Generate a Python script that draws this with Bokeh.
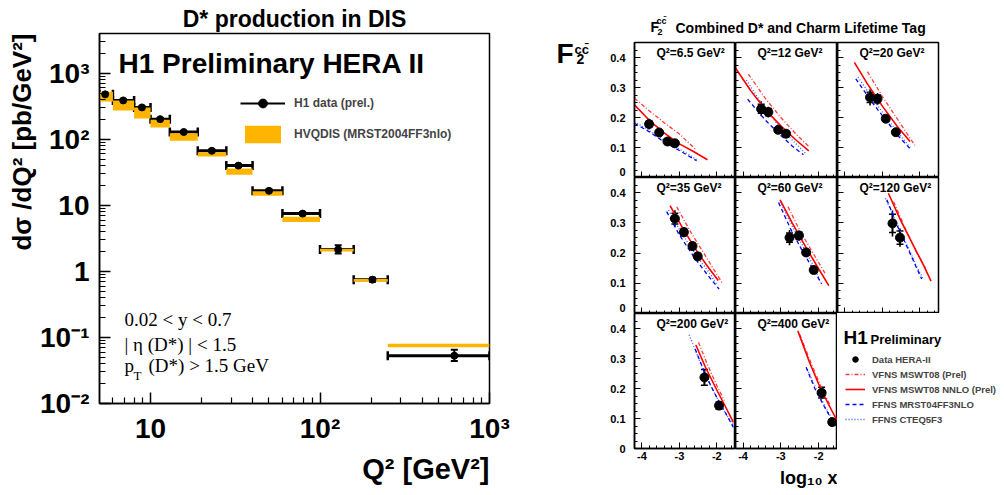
import math
from bokeh.plotting import figure
from bokeh.models import (Range1d, FixedTicker, Whisker, TeeHead, Label, Title, Spacer,
                          Legend, LegendItem, ColumnDataSource, LinearAxis)
from bokeh.layouts import row, column
from bokeh.embed import file_html
from bokeh.resources import INLINE

FONT = "Liberation Sans"
SERIF = "Liberation Serif"
ORANGE = "#FFB400"
NAN = float("nan")

# ---------------- left: D* production in DIS ----------------
Q2_LO = [5, 6, 8, 10, 13, 19, 28, 40, 60, 100, 158, 251]
Q2_HI = [6, 8, 10, 13, 19, 28, 40, 60, 100, 158, 251, 1000]
Q2_C = [5.4, 6.9, 8.9, 11.4, 15.7, 23, 33, 50, 79, 128, 204, 620]
XS = [480, 388, 304, 202, 129, 67, 40, 16.6, 7.5, 2.14, 0.75, 0.053]
XS_ELO = [455, 370, 290, 193, 124, 64, 38.2, 15.8, 7.1, 1.86, 0.70, 0.044]
XS_EHI = [505, 406, 318, 211, 134, 70, 41.8, 17.4, 7.9, 2.48, 0.80, 0.065]
TH_LO = [374, 273, 206, 151, 95, 55, 29, 14, 5.6, 2.0, 0.70, 0.071]
TH_HI = [525, 387, 303, 197, 124, 63.7, 36, 16.4, 6.7, 2.2, 0.77, 0.080]
X_TICKS = [10, 100, 1000]
X_LABELS = ["10", "10\u00b2", "10\u00b3"]
Y_TICKS = [0.01, 0.1, 1, 10, 100, 1000]
Y_LABELS = ["10\u207b\u00b2", "10\u207b\u00b9", "1", "10", "10\u00b2", "10\u00b3"]

# ---------------- right: F2cc panels ----------------
PANEL_Q2 = ["6.5", "12", "20", "35", "60", "120", "200", "400"]
F2_X = [[-3.81, -3.54, -3.32, -3.12], [-3.52, -3.33, -3.07, -2.86],
        [-3.33, -3.13, -2.91, -2.64], [-3.12, -2.88, -2.65, -2.51],
        [-2.77, -2.52, -2.33, -2.13], [-2.73, -2.53], [-2.33, -1.94], [-1.92, -1.64]]
F2_Y = [[0.178, 0.150, 0.120, 0.114], [0.229, 0.218, 0.159, 0.146],
        [0.267, 0.262, 0.196, 0.151], [0.314, 0.269, 0.223, 0.189],
        [0.251, 0.258, 0.202, 0.144], [0.298, 0.251], [0.237, 0.143], [0.186, 0.088]]
F2_ERR = [[0.018, 0.010, 0.010, 0.008], [0.025, 0.018, 0.010, 0.012],
          [0.027, 0.020, 0.012, 0.012], [0.028, 0.017, 0.015, 0.015],
          [0.025, 0.017, 0.013, 0.013], [0.043, 0.030], [0.026, 0.012], [0.020, 0.012]]
F2_STAT = [[0.010, 0.007, 0.006, 0.006], [0.015, 0.012, 0.007, 0.008],
           [0.017, 0.013, 0.008, 0.008], [0.018, 0.012, 0.010, 0.010],
           [0.015, 0.012, 0.009, 0.009], [0.030, 0.022], [0.026, 0.012], [0.018, 0.010]]
NNLO_X = [[-4.2, -3.8, -3.4, -3.0, -2.6, -2.25], [-4.2, -3.8, -3.4, -3.0, -2.6, -2.26],
          [-3.75, -3.4, -3.0, -2.6, -2.26], [-3.25, -2.9, -2.5, -2.2, -1.96],
          [-3.02, -2.7, -2.35, -2.0, -1.73], [-2.84, -2.5, -2.15, -1.9, -1.7],
          [-2.56, -2.3, -2.0, -1.75, -1.56], [-2.55, -2.25, -2.0, -1.75, -1.5]]
NNLO_Y = [[0.242, 0.19, 0.148, 0.112, 0.085, 0.059], [0.365, 0.29, 0.225, 0.172, 0.125, 0.089],
          [0.384, 0.312, 0.238, 0.17, 0.12], [0.357, 0.28, 0.2, 0.148, 0.109],
          [0.376, 0.3, 0.222, 0.148, 0.092], [0.398, 0.305, 0.22, 0.16, 0.107],
          [0.345, 0.27, 0.195, 0.135, 0.088], [0.392, 0.29, 0.215, 0.15, 0.09]]
NLO_X = [[-4.2, -3.8, -3.4, -3.0, -2.56], [-3.86, -3.4, -3.0, -2.6, -2.26],
         [-3.4, -3.0, -2.6, -2.13], [-3.07, -2.7, -2.3, -1.84],
         [-2.81, -2.5, -2.15, -1.82], [-2.7, -2.4, -2.1, -1.85],
         [-2.49, -2.25, -2.0, -1.8], [-2.5, -2.2, -1.95, -1.7]]
NLO_Y = [[0.264, 0.222, 0.182, 0.145, 0.093], [0.345, 0.262, 0.2, 0.145, 0.103],
         [0.353, 0.27, 0.195, 0.107], [0.353, 0.27, 0.19, 0.098],
         [0.353, 0.275, 0.2, 0.131], [0.37, 0.285, 0.205, 0.15],
         [0.354, 0.28, 0.21, 0.16], [0.38, 0.285, 0.21, 0.145]]
FF3_X = [[-4.2, -3.8, -3.4, -3.0, -2.54], [-3.88, -3.4, -3.0, -2.7, -2.4],
         [-3.71, -3.3, -2.9, -2.55, -2.26], [-3.34, -3.0, -2.6, -2.25, -1.94],
         [-3.06, -2.75, -2.4, -2.1, -1.92], [-2.88, -2.6, -2.3, -2.1, -1.95],
         [-2.58, -2.3, -2.0, -1.75, -1.56], [-2.33, -2.1, -1.85, -1.64]]
FF3_Y = [[0.181, 0.152, 0.118, 0.09, 0.056], [0.261, 0.19, 0.14, 0.105, 0.076],
         [0.329, 0.255, 0.19, 0.135, 0.096], [0.337, 0.26, 0.185, 0.128, 0.081],
         [0.367, 0.282, 0.2, 0.138, 0.098], [0.376, 0.29, 0.21, 0.155, 0.114],
         [0.332, 0.245, 0.17, 0.115, 0.071], [0.271, 0.2, 0.14, 0.093]]
CTEQ_X = [[-4.2, -3.8, -3.4, -3.0, -2.54], [-3.91, -3.5, -3.1, -2.7, -2.35],
          [-3.65, -3.3, -2.9, -2.55, -2.26], [-3.29, -2.95, -2.55, -2.2, -1.98],
          [-3.02, -2.7, -2.35, -2.1, -1.95], [-2.92, -2.6, -2.3, -2.1, -1.92],
          [-2.74, -2.45, -2.15, -1.85, -1.56], [-2.3, -2.05, -1.82, -1.62]]
CTEQ_Y = [[0.186, 0.156, 0.124, 0.095, 0.06], [0.325, 0.245, 0.18, 0.125, 0.081],
          [0.335, 0.27, 0.2, 0.145, 0.1], [0.342, 0.268, 0.192, 0.135, 0.092],
          [0.37, 0.29, 0.207, 0.15, 0.103], [0.381, 0.295, 0.215, 0.16, 0.117],
          [0.379, 0.29, 0.205, 0.135, 0.077], [0.265, 0.195, 0.138, 0.093]]
LEGEND_NAMES = ["Data HERA-II", "VFNS MSWT08 (Prel)", "VFNS MSWT08 NNLO (Prel)",
                "FFNS MRST04FF3NLO", "FFNS CTEQ5F3"]
RX = (-4.2, -1.5)
RY = (0.0, 0.45)


def lab(p, x, y, text, size, bold=True, font=FONT, align="left", baseline="middle"):
    p.add_layout(Label(x=x, y=y, text=text, text_font=font, text_font_size=size,
                       text_font_style="bold" if bold else "normal", text_color="black",
                       text_align=align, text_baseline=baseline))


def side_title(p, text, size, place, align, standoff):
    p.add_layout(Title(text=text, text_font=FONT, text_font_size=size, text_font_style="bold",
                       text_color="black", align=align, standoff=standoff), place)


# ======================= LEFT FIGURE =======================
LX0, LX1, LY0, LY1 = 5, 1000, 0.01, 4000


def lpx(px):
    return 10 ** (math.log10(LX0) + (px - 99) / 390 * math.log10(LX1 / LX0))


def lpy(py):
    return 10 ** (math.log10(LY1) - (py - 33) / 370 * math.log10(LY1 / LY0))


left = figure(width=538, height=493, x_axis_type="log", y_axis_type="log",
              x_range=Range1d(LX0, LX1), y_range=Range1d(LY0, LY1),
              min_border_left=99, min_border_right=49, min_border_top=33, min_border_bottom=90,
              title="D* production in DIS",
              output_backend="svg", toolbar_location=None)
left.title.align = "center"
left.title.text_font = FONT
left.title.text_font_size = "23px"
left.title.text_font_style = "bold"
left.title.text_color = "black"
left.title.standoff = 4
left.grid.visible = False
left.outline_line_color = "black"
left.outline_line_width = 1.5
xminor = [k * 10 ** e for e in range(0, 3) for k in range(2, 10) if LX0 < k * 10 ** e < LX1]
yminor = [k * 10 ** e for e in range(-2, 4) for k in range(2, 10) if LY0 < k * 10 ** e < LY1]
left.xaxis[0].ticker = FixedTicker(ticks=X_TICKS, minor_ticks=xminor)
left.yaxis[0].ticker = FixedTicker(ticks=Y_TICKS, minor_ticks=yminor)
left.xaxis[0].major_label_overrides = dict(zip(X_TICKS, X_LABELS))
left.yaxis[0].major_label_overrides = dict(zip(Y_TICKS, Y_LABELS))
for ax in (left.xaxis[0], left.yaxis[0]):
    ax.major_tick_in = 11
    ax.major_tick_out = 0
    ax.minor_tick_in = 6
    ax.minor_tick_out = 0
    ax.axis_line_width = 1.5
    ax.major_tick_line_width = 1.5
    ax.minor_tick_line_width = 1.2
    ax.axis_line_color = "black"
    ax.major_tick_line_color = "black"
    ax.minor_tick_line_color = "black"
    ax.major_label_text_font = FONT
    ax.major_label_text_font_style = "bold"
    ax.major_label_text_font_size = "28px"
    ax.major_label_text_color = "black"
left.xaxis[0].major_label_standoff = 9
left.yaxis[0].major_label_standoff = 10
side_title(left, "d\u03c3 /dQ\u00b2 [pb/GeV\u00b2]", "26px", "left", "right", 2)
side_title(left, "Q\u00b2 [GeV\u00b2]", "29px", "below", "right", 8)

src = ColumnDataSource(dict(q2lo=Q2_LO, q2hi=Q2_HI, q2c=Q2_C, xs=XS, elo=XS_ELO, ehi=XS_EHI,
                            tlo=TH_LO, thi=TH_HI))
band = left.quad(left="q2lo", right="q2hi", bottom="tlo", top="thi", source=src,
                 fill_color=ORANGE, line_color=None)
left.add_layout(Whisker(source=src, base="xs", lower="q2lo", upper="q2hi", dimension="width",
                        line_width=3, line_color="black",
                        lower_head=TeeHead(size=9, line_width=2.5, line_color="black"),
                        upper_head=TeeHead(size=9, line_width=2.5, line_color="black")))
left.add_layout(Whisker(source=src, base="q2c", lower="elo", upper="ehi", dimension="height",
                        line_width=2, line_color="black",
                        lower_head=TeeHead(size=7, line_width=2, line_color="black"),
                        upper_head=TeeHead(size=7, line_width=2, line_color="black")))
left.scatter("q2c", "xs", source=src, size=7, color="black")

leg_line = left.line(x=[NAN, NAN], y=[NAN, NAN], line_color="black", line_width=2)
leg_pt = left.scatter(x=[NAN], y=[NAN], size=8, color="black")
lleg = Legend(items=[LegendItem(label="H1 data (prel.)", renderers=[leg_line, leg_pt]),
                     LegendItem(label="HVQDIS (MRST2004FF3nlo)", renderers=[band])],
              location=(141, 258), glyph_width=45, glyph_height=22, label_height=22,
              spacing=9, padding=0, margin=0, label_standoff=9,
              border_line_color=None, background_fill_alpha=0,
              label_text_font=FONT, label_text_font_style="bold", label_text_font_size="12px")
left.add_layout(lleg)

lab(left, lpx(118), lpy(63), "H1 Preliminary HERA II", "28px")
lab(left, lpx(124), lpy(319), "0.02 < y < 0.7", "19px", bold=False, font=SERIF)
lab(left, lpx(124), lpy(344), "| \u03b7 (D*) | < 1.5", "19px", bold=False, font=SERIF)
lab(left, lpx(124), lpy(365), "p", "19px", bold=False, font=SERIF)
lab(left, lpx(133), lpy(375), "T", "13px", bold=False, font=SERIF)
lab(left, lpx(148), lpy(365), "(D*) > 1.5 GeV", "19px", bold=False, font=SERIF)

# ======================= RIGHT BLOCK =======================
COLS = [dict(w=141, bl=40, br=0, left=636, fw=101),
        dict(w=102, bl=0, br=0, left=737, fw=102),
        dict(w=165, bl=0, br=64, left=839, fw=101)]
ROWS = [dict(h=139, bt=4, bb=0, top=42, fh=135),
        dict(h=136, bt=0, bb=0, top=177, fh=136),
        dict(h=180, bt=0, bb=45, top=313, fh=135)]
RX_MINOR = [round(-4.2 + 0.2 * k, 1) for k in range(14)]
RY_MINOR = [round(0.025 * k, 3) for k in range(19)]
RX_TICKS = [-4, -3, -2]
RY_TICKS = [0, 0.1, 0.2, 0.3, 0.4]
RY_LABELS = ["0", "0.1", "0.2", "0.3", "0.4"]
ZERO_LIFT = 0.019   # keeps the "0" label of rows 1-2 inside their own cell


def rpx(px, c):
    C = COLS[c]
    return RX[0] + (px - C["left"]) / C["fw"] * (RX[1] - RX[0])


def rpy(py, r):
    R = ROWS[r]
    return RY[1] - (py - R["top"]) / R["fh"] * (RY[1] - RY[0])


def style_labels(ax, size="11px"):
    ax.major_label_text_font = FONT
    ax.major_label_text_font_style = "bold"
    ax.major_label_text_font_size = size
    ax.major_label_text_color = "black"


def make_panel(i, c, r):
    C, R = COLS[c], ROWS[r]
    p = figure(width=C["w"], height=R["h"], x_range=Range1d(*RX), y_range=Range1d(*RY),
               min_border_left=C["bl"], min_border_right=C["br"],
               min_border_top=R["bt"], min_border_bottom=R["bb"],
               output_backend="svg", toolbar_location=None)
    p.grid.visible = False
    p.outline_line_color = "black"
    p.outline_line_width = 1.5
    xa, ya = p.xaxis[0], p.yaxis[0]
    xa.ticker = FixedTicker(ticks=RX_TICKS, minor_ticks=RX_MINOR)
    ya.ticker = FixedTicker(ticks=RY_TICKS, minor_ticks=RY_MINOR)
    for ax in (xa, ya):
        ax.major_tick_in = 6
        ax.major_tick_out = 0
        ax.minor_tick_in = 3
        ax.minor_tick_out = 0
        ax.axis_line_width = 1.5
        ax.axis_line_color = "black"
        ax.major_tick_line_color = "black"
        ax.minor_tick_line_color = "black"
        style_labels(ax)
    xa.major_label_overrides = {t: str(t) for t in RX_TICKS}
    ya.major_label_overrides = dict(zip(RY_TICKS, RY_LABELS))
    xa.major_label_standoff = 3
    ya.major_label_standoff = 9
    if c != 0 or r != 2:
        ya.major_label_overrides = {t: "" for t in RY_TICKS}
        ya.major_label_text_font_size = "0px"
        ya.major_label_standoff = 0
    if c == 0 and r != 2:
        # label-only axis: same labels, the "0" nudged up so it stays inside this cell
        lt = [ZERO_LIFT] + RY_TICKS[1:]
        la = LinearAxis(ticker=FixedTicker(ticks=lt, minor_ticks=[]),
                        major_label_overrides=dict(zip(lt, RY_LABELS)),
                        major_tick_in=0, major_tick_out=0, minor_tick_in=0, minor_tick_out=0,
                        axis_line_color=None, major_tick_line_color=None,
                        minor_tick_line_color=None, major_label_standoff=9)
        style_labels(la)
        p.add_layout(la, "left")
    if r != 2:
        xa.major_label_overrides = {t: "" for t in RX_TICKS}
        xa.major_label_text_font_size = "0px"
        xa.major_label_standoff = 0

    p.line(NLO_X[i], NLO_Y[i], line_color="#ff3b3b", line_width=1.3, line_dash="4 2 1 2")
    p.line(CTEQ_X[i], CTEQ_Y[i], line_color="#3a5cff", line_width=1.3, line_dash="1 2")
    p.line(FF3_X[i], FF3_Y[i], line_color="#0000ff", line_width=1.3, line_dash="4 3")
    p.line(NNLO_X[i], NNLO_Y[i], line_color="#ff0000", line_width=1.6)

    s = ColumnDataSource(dict(
        x=F2_X[i], y=F2_Y[i],
        lo=[v - e for v, e in zip(F2_Y[i], F2_ERR[i])],
        hi=[v + e for v, e in zip(F2_Y[i], F2_ERR[i])],
        slo=[v - e for v, e in zip(F2_Y[i], F2_STAT[i])],
        shi=[v + e for v, e in zip(F2_Y[i], F2_STAT[i])]))
    p.add_layout(Whisker(source=s, base="x", lower="lo", upper="hi", dimension="height",
                         line_width=1.6, line_color="black", lower_head=None, upper_head=None))
    p.add_layout(Whisker(source=s, base="x", lower="slo", upper="shi", dimension="height",
                         line_width=1.6, line_color="black",
                         lower_head=TeeHead(size=7, line_width=1.5, line_color="black"),
                         upper_head=TeeHead(size=7, line_width=1.5, line_color="black")))
    p.scatter("x", "y", source=s, size=9, color="black")

    lab(p, rpx(C["left"] + 22, c), rpy(R["top"] + 10, r), "Q\u00b2=%s GeV\u00b2" % PANEL_Q2[i], "12px")
    return p


panels = []
idx = 0
for r in range(3):
    for c in range(3):
        if idx < 8:
            panels.append(make_panel(idx, c, r))
            idx += 1

# log10 x axis title under the middle bottom panel (right aligned to its frame)
side_title(panels[7], "log\u2081\u2080 x", "18px", "below", "right", 6)

# header with title (pixel coordinates of the page)
header = figure(width=464, height=38, x_range=Range1d(540, 1004), y_range=Range1d(38, 0),
                min_border=0, x_axis_location=None, y_axis_location=None,
                output_backend="svg", toolbar_location=None)
header.grid.visible = False
header.outline_line_color = None
lab(header, 652, 26.5, "F", "14px")
lab(header, 658, 20.5, "cc\u0304", "9px")
lab(header, 659, 31.5, "2", "9px")
lab(header, 677, 27, "Combined D* and Charm Lifetime Tag", "14px")

# F2cc axis title cell, left of the first panel row
ylab = figure(width=56, height=139, x_range=Range1d(540, 596), y_range=Range1d(177, 42),
              min_border_left=0, min_border_right=0, min_border_top=4, min_border_bottom=0,
              x_axis_location=None, y_axis_location=None,
              output_backend="svg", toolbar_location=None)
ylab.grid.visible = False
ylab.outline_line_color = None
lab(ylab, 558, 53, "F", "28px")
lab(ylab, 576, 48.5, "cc\u0304", "13px")
lab(ylab, 578, 58.5, "2", "14px")

# legend cell
lf = figure(width=165, height=180, x_range=Range1d(839, 1004), y_range=Range1d(448, 313),
            min_border_left=0, min_border_right=0, min_border_top=0, min_border_bottom=45,
            x_axis_location=None, y_axis_location=None,
            output_backend="svg", toolbar_location=None)
lf.grid.visible = False
lf.outline_line_color = None
r_pt = lf.scatter(x=[NAN], y=[NAN], size=9, color="black")
r_nlo = lf.line(x=[NAN, NAN], y=[NAN, NAN], line_color="#ff3b3b", line_width=1.3, line_dash="4 2 1 2")
r_nnlo = lf.line(x=[NAN, NAN], y=[NAN, NAN], line_color="#ff0000", line_width=1.6)
r_ff3 = lf.line(x=[NAN, NAN], y=[NAN, NAN], line_color="#0000ff", line_width=1.3, line_dash="4 3")
r_cteq = lf.line(x=[NAN, NAN], y=[NAN, NAN], line_color="#3a5cff", line_width=1.3, line_dash="1 2")
rleg = Legend(items=[LegendItem(label=n, renderers=[rr]) for n, rr in
                     zip(LEGEND_NAMES, [r_pt, r_nlo, r_nnlo, r_ff3, r_cteq])],
              location=(8, 22), glyph_width=20, glyph_height=14, label_height=14,
              spacing=1, padding=0, margin=0, label_standoff=7,
              border_line_color=None, background_fill_alpha=0,
              label_text_font=FONT, label_text_font_style="bold", label_text_font_size="9.5px")
lf.add_layout(rleg)
lab(lf, 845, 336.5, "H1", "19px")
lab(lf, 872, 338.5, "Preliminary", "13px")

grid = column(header,
              row(ylab, panels[0], panels[1], panels[2]),
              row(Spacer(width=56, height=136), panels[3], panels[4], panels[5]),
              row(Spacer(width=56, height=180), panels[6], panels[7], lf))
layout = row(left, grid)

open("out.html", "w").write(file_html(layout, INLINE))
